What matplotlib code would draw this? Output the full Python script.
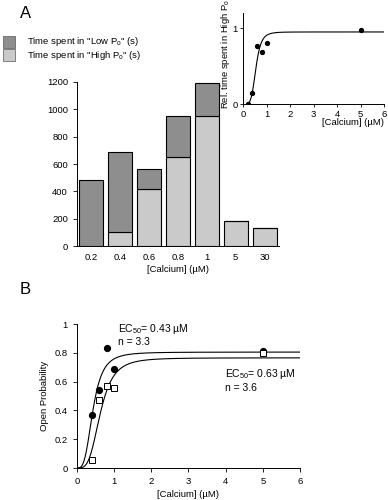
import numpy as np
import matplotlib
matplotlib.use("Agg")
import matplotlib.pyplot as plt
from matplotlib.patches import Rectangle

plt.rcParams['font.family'] = ['Liberation Sans', 'DejaVu Sans']
plt.rcParams['mathtext.default'] = 'regular'

# ---- Panel A bar data ----
bar_labels = ['0.2', '0.4', '0.6', '0.8', '1', '5', '30']
high_po = [0, 100, 420, 650, 950, 185, 130]      # light
low_po = [480, 590, 140, 300, 240, 0, 0]         # dark (stacked)

# ---- Inset data ----
inset_ca = [0.2, 0.4, 0.6, 0.8, 1.0, 5.0]
inset_rel = [0.0, 0.15, 0.76, 0.69, 0.81, 0.98]
inset_fit = dict(top=0.95, ec50=0.55, n=5.0)

# ---- Panel B data ----
b_ca = [0.4, 0.6, 0.8, 1.0, 5.0]
b_circles = [0.37, 0.545, 0.835, 0.69, 0.815]
b_squares = [0.056, 0.47, 0.567, 0.553, 0.797]
fit_circ = dict(top=0.805, ec50=0.43, n=3.3)
fit_sq = dict(top=0.765, ec50=0.63, n=3.6)

DARK = '#8e8e8e'
LIGHT = '#cacaca'


def hill(x, top, ec50, n):
    x = np.asarray(x, float)
    return top * x**n / (ec50**n + x**n)


fig = plt.figure(figsize=(3.88, 5.0), dpi=100)
fs = 6.8

# Panel labels
fig.text(20/388, 1-14/500, 'A', fontsize=12, ha='left', va='center')
fig.text(20/388, 1-289/500, 'B', fontsize=12, ha='left', va='center')

# Legend
for i, (col, txt) in enumerate([(DARK, 'Time spent in "Low P$_{o}$" (s)'),
                                (LIGHT, 'Time spent in "High P$_{o}$" (s)')]):
    y0 = 1 - (48 + i*13)/500
    fig.patches.append(Rectangle((3/388, y0), 12/388, 12/500, transform=fig.transFigure,
                                 facecolor=col, edgecolor='#555555', lw=0.5))
    fig.text(27/388, y0 + 6/500, txt, fontsize=fs, va='center', ha='left')

# Bar chart
ax = fig.add_axes([77/388, 1-246/500, 202/388, 164/500])
x = np.arange(len(bar_labels))
ax.bar(x, high_po, width=0.83, color=LIGHT, edgecolor='black', linewidth=0.8)
ax.bar(x, low_po, bottom=high_po, width=0.83, color=DARK, edgecolor='black', linewidth=0.8)
ax.set_xlim(-0.5, 6.5)
ax.set_ylim(0, 1200)
ax.set_yticks(range(0, 1201, 200))
ax.set_xticks(x)
ax.set_xticklabels(bar_labels)
ax.tick_params(labelsize=fs, length=3, width=0.6)
ax.tick_params(axis='x', length=0, pad=5)
for s in ['top', 'right']:
    ax.spines[s].set_visible(False)
for s in ['left', 'bottom']:
    ax.spines[s].set_linewidth(0.7)
ax.set_xlabel('[Calcium] (µM)', fontsize=fs, labelpad=2)

# Inset
ai = fig.add_axes([243/388, 1-104/500, 141/388, 91/500])
xx = np.linspace(0.2, 6, 400)
ai.plot(xx, hill(xx, **inset_fit), color='black', lw=0.8)
ai.plot(inset_ca, inset_rel, 'o', color='black', ms=2.8)
ai.set_xlim(0, 6)
ai.set_ylim(0, 1.2)
ai.set_xticks(range(0, 7))
ai.set_yticks([0, 1])
ai.tick_params(labelsize=fs, length=2.5, width=0.6, pad=1.5)
for s in ['top', 'right']:
    ai.spines[s].set_visible(False)
for s in ['left', 'bottom']:
    ai.spines[s].set_linewidth(0.7)
ai.text(1.0, -0.15, '[Calcium] (µM)', fontsize=fs, ha='right', va='top',
        transform=ai.transAxes)
ai.set_ylabel('Rel. time spent in High P$_{o}$', fontsize=fs, labelpad=2)
ai.yaxis.set_label_coords(-0.075, 0.55)

# Panel B
ab = fig.add_axes([77/388, 1-468/500, 223/388, 144/500])
xb = np.linspace(0, 6, 600)
ab.plot(xb, hill(xb, **fit_circ), color='black', lw=0.8)
ab.plot(xb, hill(xb, **fit_sq), color='black', lw=0.8)
ab.plot(b_ca, b_circles, 'o', color='black', ms=4.2)
ab.plot(b_ca, b_squares, 's', mfc='white', mec='black', mew=0.7, ms=4.2)
ab.set_xlim(0, 6)
ab.set_ylim(0, 1)
ab.set_xticks(range(0, 7))
ab.set_yticks([0, 0.2, 0.4, 0.6, 0.8, 1])
ab.set_yticklabels(['0', '0.2', '0.4', '0.6', '0.8', '1'])
ab.tick_params(labelsize=fs, length=3, width=0.6)
for s in ['top', 'right']:
    ab.spines[s].set_visible(False)
for s in ['left', 'bottom']:
    ab.spines[s].set_linewidth(0.7)
ab.set_xlabel('[Calcium] (µM)', fontsize=fs, labelpad=3)
ab.set_ylabel('Open Probability', fontsize=fs, labelpad=4)
ab.text(1.1, 0.965, 'EC$_{50}$= 0.43 µM', fontsize=7.5, va='center')
ab.text(1.1, 0.875, 'n = 3.3', fontsize=7.5, va='center')
ab.text(3.98, 0.655, 'EC$_{50}$= 0.63 µM', fontsize=7.5, va='center')
ab.text(3.98, 0.555, 'n = 3.6', fontsize=7.5, va='center')

fig.savefig('out.png', dpi=100)
